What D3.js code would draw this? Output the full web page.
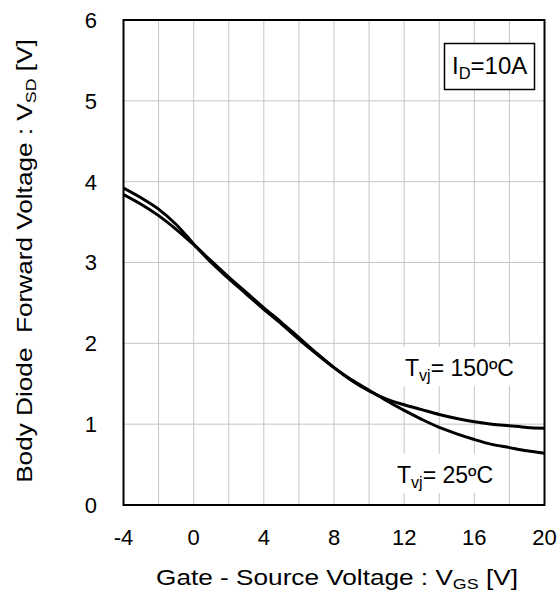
<!DOCTYPE html>
<html>
<head>
<meta charset="utf-8">
<script src="https://cdn.jsdelivr.net/npm/d3@7"></script>
<style>
  html, body { margin: 0; padding: 0; background: #fff; }
  svg text { font-family: "Liberation Sans", Arial, Helvetica, sans-serif; fill: #000; }
</style>
</head>
<body>
<svg id="chart" width="560" height="594"></svg>
<script>
// ---- data ----
const vgs = [-4,-3,-2,-1,0,1,2,3,4,5,6,7,8,9,10,11,12,13,14,15,16,17,18,19,20];
const vsd25  = [3.92,3.80,3.66,3.47,3.23,3.00,2.80,2.61,2.42,2.24,2.05,1.87,1.70,1.55,1.42,1.29,1.17,1.06,0.96,0.88,0.81,0.75,0.71,0.67,0.64];
const vsd150 = [3.84,3.72,3.58,3.41,3.22,3.02,2.82,2.63,2.44,2.26,2.07,1.88,1.70,1.54,1.41,1.31,1.24,1.18,1.12,1.07,1.03,1.00,0.98,0.96,0.95];
const xTicks = [-4,0,4,8,12,16,20];
const yTicks = [0,1,2,3,4,5,6];
const xGrid = [-2,0,2,4,6,8,10,12,14,16,18];
const yGrid = [1,2,3,4,5];

const svg = d3.select("#chart");
const L = 123.5, R = 544.5, T = 20, B = 505;
const x = d3.scaleLinear().domain([-4,20]).range([L,R]);
const y = d3.scaleLinear().domain([0,6]).range([B,T]);

// grid
svg.append("g").selectAll("line").data(xGrid).join("line")
  .attr("x1", d=>x(d)).attr("x2", d=>x(d)).attr("y1", T).attr("y2", B)
  .attr("stroke", "#c4c4c4").attr("stroke-width", 1);
svg.append("g").selectAll("line").data(yGrid).join("line")
  .attr("x1", L).attr("x2", R).attr("y1", d=>y(d)).attr("y2", d=>y(d))
  .attr("stroke", "#c4c4c4").attr("stroke-width", 1);

// curves
svg.append("clipPath").attr("id","clip").append("rect")
  .attr("x", L).attr("y", T).attr("width", R-L).attr("height", B-T);
const line = d3.line().x(d=>x(d[0])).y(d=>y(d[1])).curve(d3.curveCatmullRom.alpha(0.5));
[vsd25, vsd150].forEach(s => {
  svg.append("path").datum(vgs.map((v,i)=>[v, s[i]]))
    .attr("d", line).attr("fill","none").attr("stroke","#000")
    .attr("stroke-width", 3).attr("clip-path","url(#clip)");
});

// curve labels with white background
function label(px, py, main, sub, rest, fs) {
  const g = svg.append("g");
  const bg = g.append("rect").attr("fill","#fff");
  const t = g.append("text").attr("x", px).attr("y", py).attr("font-size", fs);
  t.append("tspan").text(main);
  t.append("tspan").attr("font-size", fs*0.7).attr("dy", 5).text(sub);
  t.append("tspan").attr("dy", -5).text(rest);
  const bb = t.node().getBBox();
  bg.attr("x", bb.x-10).attr("y", bb.y-8).attr("width", bb.width+18).attr("height", bb.height+10);
}
label(405, 376, "T", "vj", "= 150ºC", 23);
label(397, 483, "T", "vj", "= 25ºC", 23);

// frame
svg.append("rect").attr("x", L).attr("y", T).attr("width", R-L).attr("height", B-T)
  .attr("fill","none").attr("stroke","#000").attr("stroke-width", 2);

// condition box
svg.append("rect").attr("x", 444.5).attr("y", 43.5).attr("width", 90).attr("height", 46)
  .attr("fill","#fff").attr("stroke","#000").attr("stroke-width", 1.5);
const ct = svg.append("text").attr("x", 452).attr("y", 74).attr("font-size", 24);
ct.append("tspan").text("I");
ct.append("tspan").attr("font-size", 16.5).attr("dy", 5).text("D");
ct.append("tspan").attr("dy", -5).text("=10A");

// tick labels
svg.append("g").selectAll("text").data(xTicks).join("text")
  .attr("x", d=>x(d)).attr("y", 545).attr("text-anchor","middle")
  .attr("font-size", 22).text(d=>d);
svg.append("g").selectAll("text").data(yTicks).join("text")
  .attr("x", 97).attr("y", d=>y(d)).attr("dy","0.36em").attr("text-anchor","end")
  .attr("font-size", 22).text(d=>d);

// axis titles (slightly widened glyphs like the reference)
const xt = svg.append("text").attr("transform", "translate(337,585) scale(1.19,1)")
  .attr("text-anchor","middle").attr("font-size", 22);
xt.append("tspan").text("Gate - Source Voltage : V");
xt.append("tspan").attr("font-size", 15).attr("dy", 4).text("GS");
xt.append("tspan").attr("dy", -4).text(" [V]");

const yt = svg.append("text").attr("transform", "translate(32,261) rotate(-90) scale(1.19,1)")
  .attr("text-anchor","middle").attr("font-size", 22);
yt.append("tspan").text("Body Diode\u00a0 Forward Voltage : V");
yt.append("tspan").attr("font-size", 15).attr("dy", 4).text("SD");
yt.append("tspan").attr("dy", -4).text(" [V]");
</script>
</body>
</html>
